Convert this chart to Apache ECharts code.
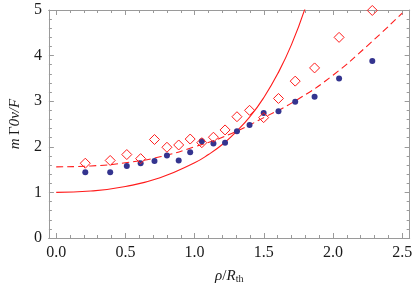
<!DOCTYPE html>
<html><head><meta charset="utf-8">
<script src="https://cdn.jsdelivr.net/npm/echarts@6/dist/echarts.min.js"></script>
<style>html,body{margin:0;padding:0;background:#fff}#c{width:415px;height:289px}</style>
</head><body><div id="c"></div>
<script>
// Data
const pointsX = [0.21,0.39,0.51,0.61,0.71,0.80,0.885,0.968,1.052,1.136,1.22,1.306,1.397,1.499,1.606,1.727,1.867,2.044,2.284];
const dotsY   = [1.44,1.44,1.58,1.64,1.69,1.81,1.70,1.88,2.12,2.07,2.09,2.34,2.48,2.74,2.78,2.99,3.10,3.50,3.88];
const diamondsY = [1.64,1.70,1.83,1.74,2.16,1.99,2.04,2.17,2.09,2.21,2.37,2.66,2.80,2.64,3.06,3.44,3.73,4.40,4.99];
const solidX = [0,0.25,0.5,0.75,1.0,1.1,1.2,1.3,1.4,1.5,1.6,1.7,1.8];
const solidY = [1.00,1.03,1.13,1.32,1.65,1.83,2.05,2.33,2.66,3.08,3.60,4.24,5.05];
const dashX = [0,0.25,0.5,0.75,1.0,1.25,1.5,1.75,2.0,2.25,2.5];
const dashY = [1.56,1.58,1.65,1.78,2.00,2.27,2.64,3.05,3.57,4.22,4.93];
const xMajorTicks = [0,0.5,1.0,1.5,2.0,2.5];
const xMinorTicks = [0.1,0.2,0.3,0.4,0.6,0.7,0.8,0.9,1.1,1.2,1.3,1.4,1.6,1.7,1.8,1.9,2.1,2.2,2.3,2.4];
const X_MIN = -0.053, X_MAX = 2.554;

const frame = '#9a9a9a';
const red = '#ff1a1a';
const serif = 'Liberation Serif';
const zip = (xs, ys) => xs.map((x, i) => [x, ys[i]]);

function xAx(pos, ticks, len, labels, extra) {
  return Object.assign({
    type: 'value', position: pos, min: X_MIN, max: X_MAX,
    axisLine: { show: true, onZero: false, lineStyle: { color: frame, width: 1 } },
    axisTick: { show: true, inside: true, length: len, customValues: ticks, lineStyle: { color: frame } },
    axisLabel: labels ? { show: true, customValues: xMajorTicks, formatter: v => v.toFixed(1),
      fontFamily: serif, fontSize: 16, color: '#1a1a1a', margin: 7 } : { show: false },
    splitLine: { show: false }
  }, extra || {});
}
function yAx(pos, labels, extra) {
  return Object.assign({
    type: 'value', position: pos, min: 0, max: 5, interval: 1,
    axisLine: { show: true, onZero: false, lineStyle: { color: frame, width: 1 } },
    axisTick: { show: true, inside: true, length: 5, lineStyle: { color: frame } },
    minorTick: { show: true, splitNumber: 5, length: 3, lineStyle: { color: frame } },
    axisLabel: labels ? { show: true, fontFamily: serif, fontSize: 16, color: '#1a1a1a', margin: 7 } : { show: false },
    splitLine: { show: false }, minorSplitLine: { show: false }
  }, extra || {});
}

const chart = echarts.init(document.getElementById('c'), null, { renderer: 'canvas' });
chart.setOption({
  animation: false,
  grid: { left: 40, right: 2, top: 10, bottom: 49, containLabel: false },
  xAxis: [
    xAx('bottom', xMajorTicks, 5, true, {
      name: '{i|ρ}{r|/}{i|R}{s|th}', nameLocation: 'middle', nameGap: 30,
      nameTextStyle: { rich: {
        i: { fontFamily: serif, fontStyle: 'italic', fontSize: 15, color: '#1a1a1a' },
        r: { fontFamily: serif, fontSize: 15, color: '#1a1a1a' },
        s: { fontFamily: serif, fontSize: 10, color: '#1a1a1a', verticalAlign: 'bottom', padding: [6, 0, 0, 0] }
      } }
    }),
    xAx('bottom', xMinorTicks, 3, false),
    xAx('top', xMajorTicks, 5, false),
    xAx('top', xMinorTicks, 3, false)
  ],
  yAxis: [
    yAx('left', true, {
      name: '{i|m} {r|Γ}{i|0v/F}', nameLocation: 'middle', nameGap: 22, nameRotate: 90,
      nameTextStyle: { rich: {
        i: { fontFamily: serif, fontStyle: 'italic', fontSize: 15, color: '#1a1a1a' },
        r: { fontFamily: serif, fontSize: 15, color: '#1a1a1a' }
      } }
    }),
    yAx('right', false)
  ],
  series: [
    { type: 'line', data: zip(solidX, solidY), smooth: true, showSymbol: false, clip: true,
      lineStyle: { color: red, width: 1.1 }, z: 2, silent: true },
    { type: 'line', data: zip(dashX, dashY), smooth: true, showSymbol: false, clip: true,
      lineStyle: { color: red, width: 1.1, type: [7, 4] }, z: 2, silent: true },
    { type: 'scatter', data: zip(pointsX, dotsY), symbol: 'circle', symbolSize: 6, silent: true,
      itemStyle: { color: '#34348f', opacity: 1 }, z: 3 },
    { type: 'scatter', data: zip(pointsX, diamondsY), symbol: 'diamond', symbolSize: 10, silent: true,
      itemStyle: { color: 'none', borderColor: red, borderWidth: 1, opacity: 1 }, z: 4 }
  ]
});
</script></body></html>
